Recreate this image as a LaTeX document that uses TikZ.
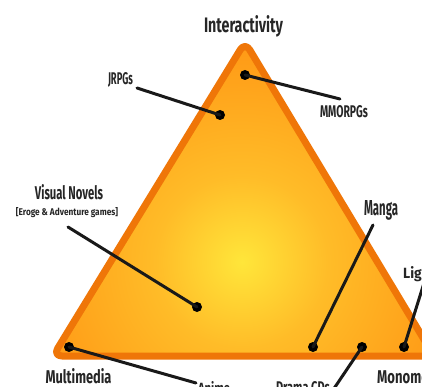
\documentclass[tikz,border=0pt]{standalone}
\usepackage{fontspec}
\setmainfont{Fira Sans}
\usepackage{graphicx}
\definecolor{yel}{HTML}{FFE63A}
\definecolor{mid}{HTML}{FFBC28}
\definecolor{org}{HTML}{FF9212}
\definecolor{rim}{HTML}{EF7608}
\definecolor{ink}{HTML}{262626}
\pgfdeclareradialshading{glow}{\pgfpointorigin}{color(0bp)=(yel);color(6bp)=(mid);color(17bp)=(org);color(50bp)=(org)}
\newcommand{\fitlbl}[3]{\resizebox{#1pt}{#2pt}{\bfseries #3}}
\begin{document}
\begin{tikzpicture}[x=1pt,y=-1pt,
  lbl/.style={inner sep=0pt, text=ink, anchor=base},
  lblw/.style={lbl, anchor=base west},
  dot/.style={circle, fill=black, inner sep=0pt, minimum size=10pt},
  conn/.style={line width=3pt, draw=black!90, line cap=round},
  tri/.style={rounded corners=9pt}]
\useasboundingbox (0,0) rectangle (422,387);
\clip (0,0) rectangle (422,387);
\fill[white] (0,0) rectangle (422,387);
% triangle
\coordinate (T) at (245,42);
\coordinate (L) at (53,356);
\coordinate (R) at (434,356);
\begin{scope}
  \path[clip, rounded corners=9pt] (T) -- (L) -- (R) -- cycle;
  \shade[shading=glow] (242,262) circle (360);
\end{scope}
\draw[tri, rim, line width=7pt, line join=round] (T) -- (L) -- (R) -- cycle;
% labels
\node[lbl] (lInt) at (243.5,33) {\fitlbl{79}{17}{Interactivity}};
\node[lbl] (lJ) at (120.5,85) {\fitlbl{25}{12}{JRPGs}};
\node[lbl] (lMM) at (344,118) {\fitlbl{48}{12}{MMORPGs}};
\node[lbl] (lVN) at (69,200) {\fitlbl{68}{15}{Visual Novels}};
\node[lbl] (lVNs) at (67,215) {\fitlbl{102}{8}{[Eroge \& Adventure games]}};
\node[lbl] (lMa) at (381,215) {\fitlbl{34}{15}{Manga}};
\node[lblw] (lLN) at (403,278) {\fitlbl{78}{12}{Light Novels}};
\node[lbl] (lMu) at (78.5,383) {\fitlbl{66}{15}{Multimedia}};
\node[lblw] (lMo) at (377,383) {\fitlbl{70}{15}{Monomedia}};
\node[lbl] (lAn) at (214,393) {\fitlbl{32}{12}{Anime}};
\node[lbl] (lDC) at (303,393) {\fitlbl{54}{12}{Drama CDs}};
% dots
\node[dot] (dJ) at (220,115) {};
\node[dot] (dMM) at (245,75) {};
\node[dot] (dVN) at (197,307) {};
\node[dot] (dMa) at (313,347) {};
\node[dot] (dLN) at (404,347) {};
\node[dot] (dDC) at (362,347) {};
\node[dot] (dMu) at (69,347) {};
% free ends
\coordinate (eJ) at (137,88);
\coordinate (eMM) at (340,99);
\coordinate (eVN) at (68,227);
\coordinate (eMa) at (373,225);
\coordinate (eLN) at (424,283);
\coordinate (eDC) at (333,390);
\coordinate (eAn) at (196,383);
% connectors
\draw[conn] (eJ) -- (dJ.center);
\draw[conn] (dMM.center) -- (eMM);
\draw[conn] (eVN) -- (dVN.center);
\draw[conn] (eMa) -- (dMa.center);
\draw[conn] (eLN) -- (dLN.center);
\draw[conn] (dDC.center) -- (eDC);
\draw[conn] (dMu.center) -- (eAn);
\end{tikzpicture}
\end{document}
